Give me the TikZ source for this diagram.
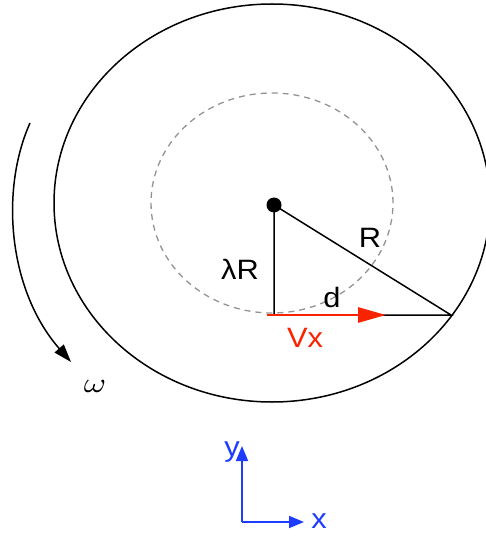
\documentclass[tikz,border=0pt]{standalone}
\usepackage{fontspec}
\setmainfont{Liberation Sans}
\usetikzlibrary{arrows.meta,positioning}
\definecolor{vxred}{RGB}{250,35,0}
\definecolor{axblue}{RGB}{30,60,255}

\tikzset{
  lbl/.style={font=\fontsize{28}{32}\selectfont,inner sep=1pt,xscale=1.1},
  thin line/.style={line width=1.5pt},
  blue arrow/.style={axblue,line width=1.8pt,-{Triangle[length=15pt,width=12pt]}}
}

\begin{document}
\begin{tikzpicture}[x=1pt,y=-1pt]
\useasboundingbox (0,0) rectangle (486,537);
\coordinate (o) at (272,203);
\coordinate (c) at (274,205);
\coordinate (f) at (274,315);
\coordinate (r) at (451,315);
% wheel and inner circle
\draw[thin line] (o) ellipse [x radius=218pt,y radius=199pt];
\draw[gray!85,line width=1.3pt,dash pattern=on 6pt off 5pt] (o) ellipse [x radius=121pt,y radius=110pt];
% triangle
\draw[thin line] (c)--(f)--(r)--cycle;
\fill (c) circle (7.5pt);
% velocity
\coordinate (v0) at (267,315);
\coordinate (v1) at (386,315);
\draw[vxred,line width=2.8pt,-{Triangle[length=28pt,width=15pt]}] (v0)--(v1);
\node[lbl] (lam) at (240,269) {λR};
\node[lbl] (rad) at (370,238) {R};
\node[lbl] (dst) at (332,297) {d};
\node[lbl,text=vxred] (vx) at (305,338) {Vx};
% rotation
\coordinate (w0) at (30,123);
\coordinate (w1) at (71,362);
\draw[thin line,-{Triangle[length=18pt,width=12pt]}] (w0) .. controls (0,190) and (8,290) .. (w1);
\node[xscale=3.4,yscale=2.8,inner sep=0pt] (om) at (95,386) {$\omega$};
% axes
\coordinate (ax0) at (242,522);
\coordinate (axy) at (242,446);
\coordinate (axx) at (304,522);
\draw[blue arrow] (ax0)--(axy);
\draw[blue arrow] (ax0)--(axx);
\node[lbl,text=axblue] (ylab) at (232,452) {y};
\node[lbl,text=axblue] (xlab) at (319,521) {x};
\end{tikzpicture}
\end{document}
